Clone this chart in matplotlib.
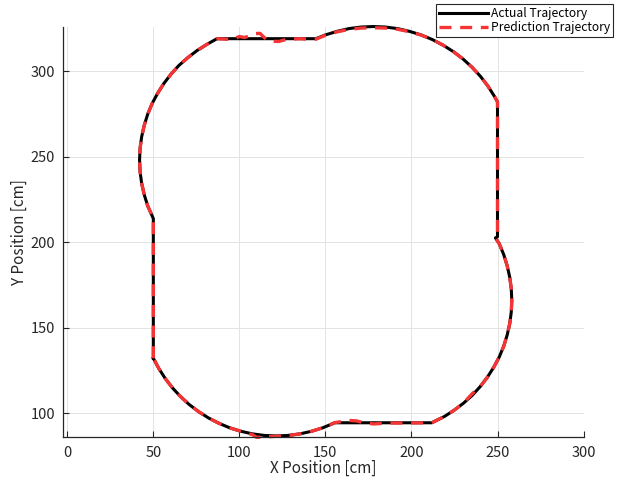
import numpy as np
import matplotlib.pyplot as plt

plt.rcParams['font.family'] = ['Noto Sans CJK JP', 'DejaVu Sans']

# actual trajectory, points read along the loop [cm]
actual_x = [50.0, 50.0, 46.7, 44.7, 43.2, 42.3, 42.0, 42.3, 43.2, 44.7, 46.7, 49.3, 52.5,
            56.1, 60.2, 64.8, 69.9, 75.3, 81.0, 87.0,
            144.5, 150.0, 156.8, 163.7, 170.7, 177.8, 184.9, 191.9, 198.8, 205.6, 212.1,
            218.4, 224.4, 230.0, 235.2, 240.0, 244.3, 248.1, 250.0,
            250.0, 248.8, 251.0, 253.6, 255.6, 257.1, 258.0, 258.3, 258.0, 257.1, 255.6,
            253.6, 251.0, 247.8, 244.1, 240.0, 235.4, 230.3, 224.9, 219.2, 211.8,
            155.5, 148.3, 141.8, 135.1, 128.3, 121.4, 114.5, 107.7, 101.0, 94.5, 88.1,
            82.1, 76.3, 70.8, 65.7, 61.1, 56.9, 53.2, 50.0]
actual_y = [132.2, 213.8, 221.3, 227.8, 234.5, 241.2, 248.0, 254.8, 261.5, 268.2, 274.7, 281.0, 287.0,
            292.7, 298.1, 303.2, 307.7, 311.9, 315.5, 318.9,
            318.9, 321.1, 323.2, 324.8, 325.7, 326.0, 325.7, 324.8, 323.2, 321.1, 318.4,
            315.1, 311.3, 307.0, 302.2, 297.0, 291.4, 285.4, 282.0,
            203.2, 202.5, 199.1, 192.8, 186.3, 179.6, 172.8, 166.0, 159.2, 152.4, 145.7,
            139.2, 132.9, 126.9, 121.1, 115.7, 110.6, 106.0, 101.9, 98.2, 94.5,
            94.5, 91.5, 89.5, 88.0, 87.1, 86.8, 87.1, 88.0, 89.5, 91.5, 94.2,
            97.3, 101.0, 105.2, 109.9, 114.9, 120.4, 126.2, 132.2]

# predicted trajectory [cm]
pred_x = [50.0, 50.0, 46.7, 44.7, 43.2, 42.3, 42.0, 42.3, 43.2, 44.7, 46.7, 49.3, 52.5,
          56.1, 60.2, 64.8, 69.9, 75.3, 81.0, 87.0,
          92.0, 96.0, 100.0, 103.0, 106.0, 109.0, 112.0, 114.0, 117.0, 123.0, 127.0, 135.0, 141.0,
          144.5, 150.0, 156.8, 163.7, 170.7, 177.8, 184.9, 191.9, 198.8, 205.6, 212.1,
          218.4, 224.4, 230.0, 235.2, 240.0, 244.3, 248.1, 250.0,
          250.0, 248.8, 251.0, 253.6, 255.6, 257.1, 258.0, 258.3, 258.0, 257.1, 255.6,
          253.6, 251.0, 247.8, 244.1, 240.0, 235.4, 230.3, 224.9, 219.2, 211.8,
          200.0, 185.0, 178.0, 172.0, 168.0, 163.0, 160.0, 155.5,
          148.3, 141.8, 135.1, 128.3, 121.4, 114.5, 110.0, 107.7, 101.0, 94.5, 88.1,
          82.1, 76.3, 70.8, 65.7, 61.1, 56.9, 53.2, 50.0]
pred_y = [132.2, 213.8, 221.3, 227.8, 234.5, 241.2, 248.0, 254.8, 261.5, 268.2, 274.7, 281.0, 287.0,
          292.7, 298.1, 303.2, 307.7, 311.9, 315.5, 318.9,
          318.6, 318.4, 320.2, 319.6, 320.5, 321.9, 322.0, 320.0, 317.4, 317.3, 318.4, 318.9, 318.5,
          318.6, 320.9, 322.9, 324.3, 325.1, 325.3, 325.1, 324.4, 323.0, 321.0, 318.4,
          315.1, 311.3, 307.0, 302.2, 297.0, 291.4, 285.4, 282.0,
          203.2, 202.5, 199.1, 192.8, 186.3, 179.6, 172.8, 166.0, 159.2, 152.4, 145.7,
          139.2, 132.9, 126.9, 121.1, 115.7, 111.6, 106.0, 101.9, 98.2, 94.5,
          94.4, 94.3, 93.8, 94.6, 95.6, 95.9, 95.3, 94.6,
          91.5, 89.5, 88.0, 87.0, 86.6, 86.2, 86.0, 87.5, 89.5, 91.5, 94.2,
          97.3, 101.0, 105.2, 109.9, 114.9, 120.4, 126.2, 132.2]

x_ticks = [0, 50, 100, 150, 200, 250, 300]
y_ticks = [100, 150, 200, 250, 300]

fig = plt.figure(figsize=(6.27, 4.82), dpi=100)
ax = fig.add_axes([0.101, 0.0927, 0.8297, 0.8519])

l1, = ax.plot(actual_x, actual_y, color='black', lw=2.2, clip_on=False,
              solid_joinstyle='round', label='Actual Trajectory')
l2, = ax.plot(pred_x, pred_y, color='#f53535', lw=2.4, clip_on=False,
              dashes=(3.6, 2.6), label='Prediction Trajectory')

ax.set_xlim(-2.3, 300)
ax.set_ylim(86, 325.9)
ax.set_xticks(x_ticks)
ax.set_yticks(y_ticks)
ax.grid(True, color='#e3e3e3', lw=0.7)
ax.set_axisbelow(True)

for s in ['top', 'right']:
    ax.spines[s].set_visible(False)
for s in ['left', 'bottom']:
    ax.spines[s].set_color('#262626')
    ax.spines[s].set_linewidth(0.9)
ax.tick_params(direction='in', length=4, width=0.8, colors='#262626',
               labelsize=10.5, pad=6)

ax.set_xlabel('X Position [cm]', fontsize=11, color='#262626', labelpad=0)
ax.set_ylabel('Y Position [cm]', fontsize=11, color='#262626')
ax.yaxis.set_label_coords(-0.069, 0.5)

leg = fig.legend(handles=[l1, l2], loc='upper right',
                 bbox_to_anchor=(613 / 627, 1 - 4 / 482), fontsize=8.7,
                 handlelength=4.1, handletextpad=0.2, borderpad=0.25,
                 labelspacing=0.12, borderaxespad=0, fancybox=False, framealpha=1)
leg.get_frame().set_edgecolor('#262626')
leg.get_frame().set_linewidth(0.8)

fig.savefig('out.png', dpi=100)
